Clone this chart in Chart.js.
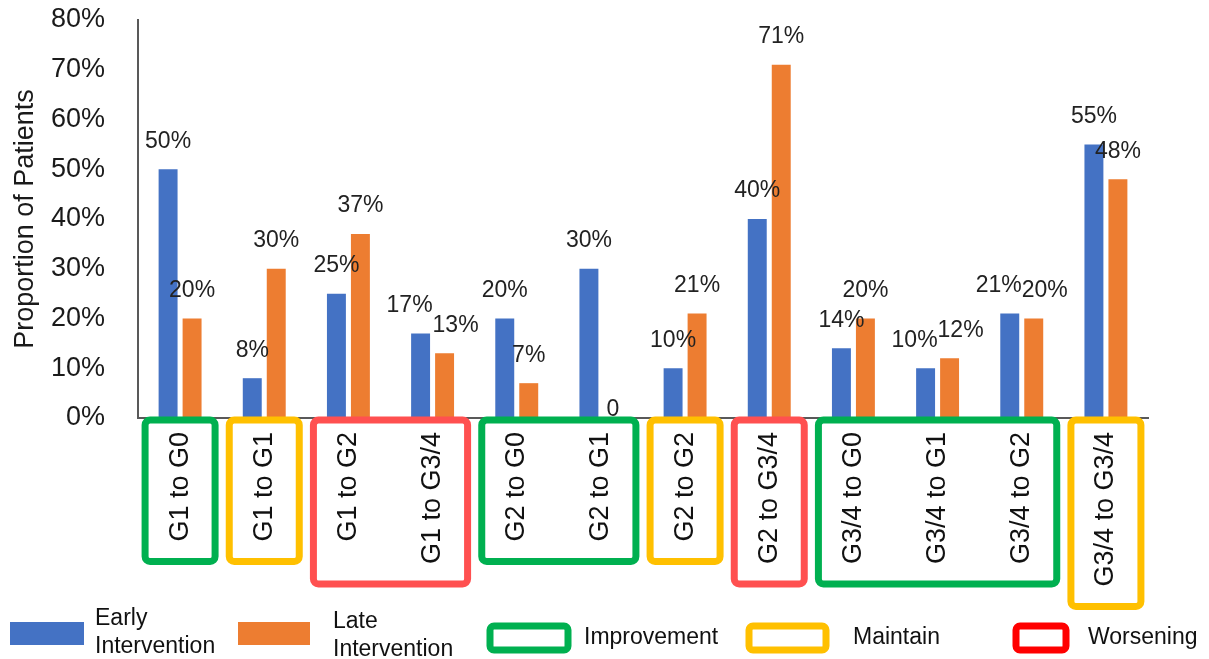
<!DOCTYPE html>
<html>
<head>
<meta charset="utf-8">
<script src="https://cdn.jsdelivr.net/npm/chart.js@4/dist/chart.umd.min.js"></script>
<style>
  html, body { margin: 0; padding: 0; background: #fff; }
  #wrap { width: 1209px; height: 659px; }
</style>
</head>
<body>
<div id="wrap"><canvas id="chart" width="1209" height="659"></canvas></div>
<script>
'use strict';

// data
var categories = ['G1 to G0', 'G1 to G1', 'G1 to G2', 'G1 to G3/4', 'G2 to G0', 'G2 to G1',
                  'G2 to G2', 'G2 to G3/4', 'G3/4 to G0', 'G3/4 to G1', 'G3/4 to G2', 'G3/4 to G3/4'];
var earlyValues = [50, 8, 25, 17, 20, 30, 10, 40, 14, 10, 21, 55];
var lateValues  = [20, 30, 37, 13, 7, 0, 21, 71, 20, 12, 20, 48];
var yTicks = [0, 10, 20, 30, 40, 50, 60, 70, 80];

// category groups drawn as boxes under the axis
var groupStart = [0, 1, 2, 4, 6, 7, 8, 11];
var groupEnd   = [0, 1, 3, 5, 6, 7, 10, 11];
var groupType  = ['Improvement', 'Maintain', 'Worsening', 'Improvement', 'Maintain', 'Worsening', 'Improvement', 'Maintain'];

var BLUE = '#4472C4';
var ORANGE = '#ED7D31';
var boxColors = { Improvement: '#00B050', Maintain: '#FFC000', Worsening: '#FF5050' };
var FONT = '"Liberation Sans", Arial, sans-serif';

function roundRect(ctx, x, y, w, h, r) {
    ctx.beginPath();
    ctx.moveTo(x + r, y);
    ctx.lineTo(x + w - r, y);
    ctx.arcTo(x + w, y, x + w, y + r, r);
    ctx.lineTo(x + w, y + h - r);
    ctx.arcTo(x + w, y + h, x + w - r, y + h, r);
    ctx.lineTo(x + r, y + h);
    ctx.arcTo(x, y + h, x, y + h - r, r);
    ctx.lineTo(x, y + r);
    ctx.arcTo(x, y, x + r, y, r);
    ctx.closePath();
}

var valueLabels = {
    id: 'valueLabels',
    afterDatasetsDraw: function (chart) {
        var ctx = chart.ctx;
        var early = chart.getDatasetMeta(0).data;
        var late = chart.getDatasetMeta(1).data;
        ctx.save();
        ctx.font = '23px ' + FONT;
        ctx.fillStyle = '#222';
        ctx.textAlign = 'center';
        ctx.textBaseline = 'middle';
        for (var j = 0; j < categories.length; j++) {
            var a = early[j], b = late[j];
            // nudge the two labels apart when they would collide
            var shift = Math.abs(a.y - b.y) < 24 ? 11 : 0;
            ctx.fillText(earlyValues[j] === 0 ? '0' : earlyValues[j] + '%', a.x - shift, a.y - 28);
            var lv = lateValues[j];
            ctx.fillText(lv === 0 ? '0' : lv + '%', b.x + shift, b.y - (lv === 0 ? 8 : 28));
        }
        ctx.restore();
    }
};

var groupBoxes = {
    id: 'groupBoxes',
    afterDraw: function (chart) {
        var ctx = chart.ctx;
        var xs = chart.scales.x;
        var top = chart.chartArea.bottom + 2;
        var textTop = top + 12;
        ctx.save();
        ctx.font = '27px ' + FONT;
        ctx.fillStyle = '#111';
        // rotated category labels
        categories.forEach(function (c, i) {
            var x = xs.getPixelForValue(i);
            ctx.save();
            ctx.translate(x, textTop);
            ctx.rotate(-Math.PI / 2);
            ctx.textAlign = 'right';
            ctx.textBaseline = 'middle';
            ctx.fillText(c, 0, 0);
            ctx.restore();
        });
        // boxes
        for (var g = 0; g < groupStart.length; g++) {
            var longest = 0;
            for (var k = groupStart[g]; k <= groupEnd[g]; k++) {
                longest = Math.max(longest, ctx.measureText(categories[k]).width);
            }
            var left = xs.getPixelForValue(groupStart[g]) - 35;
            var right = xs.getPixelForValue(groupEnd[g]) + 35;
            var bottom = textTop + longest + 20;
            ctx.strokeStyle = boxColors[groupType[g]];
            ctx.lineWidth = 7;
            roundRect(ctx, left, top, right - left, bottom - top, 5);
            ctx.stroke();
        }
        ctx.restore();
    }
};

var customLegend = {
    id: 'customLegend',
    afterDraw: function (chart) {
        var ctx = chart.ctx;
        ctx.save();
        ctx.font = '23px ' + FONT;
        ctx.fillStyle = '#111';
        ctx.textBaseline = 'middle';
        ctx.textAlign = 'left';

        ctx.fillStyle = BLUE;
        ctx.fillRect(10, 622, 74, 23);
        ctx.fillStyle = '#111';
        ctx.fillText('Early', 95, 619);
        ctx.fillText('Intervention', 95, 647);

        ctx.fillStyle = ORANGE;
        ctx.fillRect(238, 622, 72, 23);
        ctx.fillStyle = '#111';
        ctx.fillText('Late', 333, 622);
        ctx.fillText('Intervention', 333, 650);

        var items = [
            { x: 490, w: 78, color: '#00B050', label: 'Improvement', tx: 584 },
            { x: 749, w: 77, color: '#FFC000', label: 'Maintain', tx: 853 },
            { x: 1016, w: 50, color: '#FF0000', label: 'Worsening', tx: 1088 }
        ];
        items.forEach(function (it) {
            ctx.strokeStyle = it.color;
            ctx.lineWidth = 7;
            roundRect(ctx, it.x, 626, it.w, 24, 4);
            ctx.stroke();
            ctx.fillText(it.label, it.tx, 638);
        });
        ctx.restore();
    }
};

var data = {
    labels: categories,
    datasets: [
        { label: 'Early Intervention', data: earlyValues, backgroundColor: BLUE },
        { label: 'Late Intervention', data: lateValues, backgroundColor: ORANGE }
    ]
};

var chart = new Chart(document.getElementById('chart').getContext('2d'), {
    type: 'bar',
    data: data,
    plugins: [valueLabels, groupBoxes, customLegend],
    options: {
        responsive: false,
        devicePixelRatio: 1,
        animation: false,
        layout: { padding: { left: 0, top: 20, right: 61, bottom: 241 } },
        datasets: { bar: { categoryPercentage: 0.57, barPercentage: 0.79 } },
        plugins: { legend: { display: false }, tooltip: { enabled: false } },
        scales: {
            x: {
                grid: { display: false },
                border: { display: true, color: '#595959', width: 2 },
                ticks: { display: false },
                afterFit: function (scale) { scale.height = 0; }
            },
            y: {
                min: 0,
                max: 80,
                afterBuildTicks: function (scale) {
                    scale.ticks = yTicks.map(function (v) { return { value: v }; });
                },
                grid: { display: false },
                border: { display: true, color: '#595959', width: 2 },
                ticks: {
                    padding: 25,
                    color: '#1a1a1a',
                    font: { family: FONT, size: 27 },
                    callback: function (v) { return v + '%'; }
                },
                title: {
                    display: true,
                    text: 'Proportion of Patients',
                    color: '#1a1a1a',
                    font: { family: FONT, size: 27 },
                    padding: { top: 9, bottom: 0 }
                },
                afterFit: function (scale) {
                    scale.width = 138;
                    scale.paddingTop = 0;
                }
            }
        }
    }
});
</script>
</body>
</html>
